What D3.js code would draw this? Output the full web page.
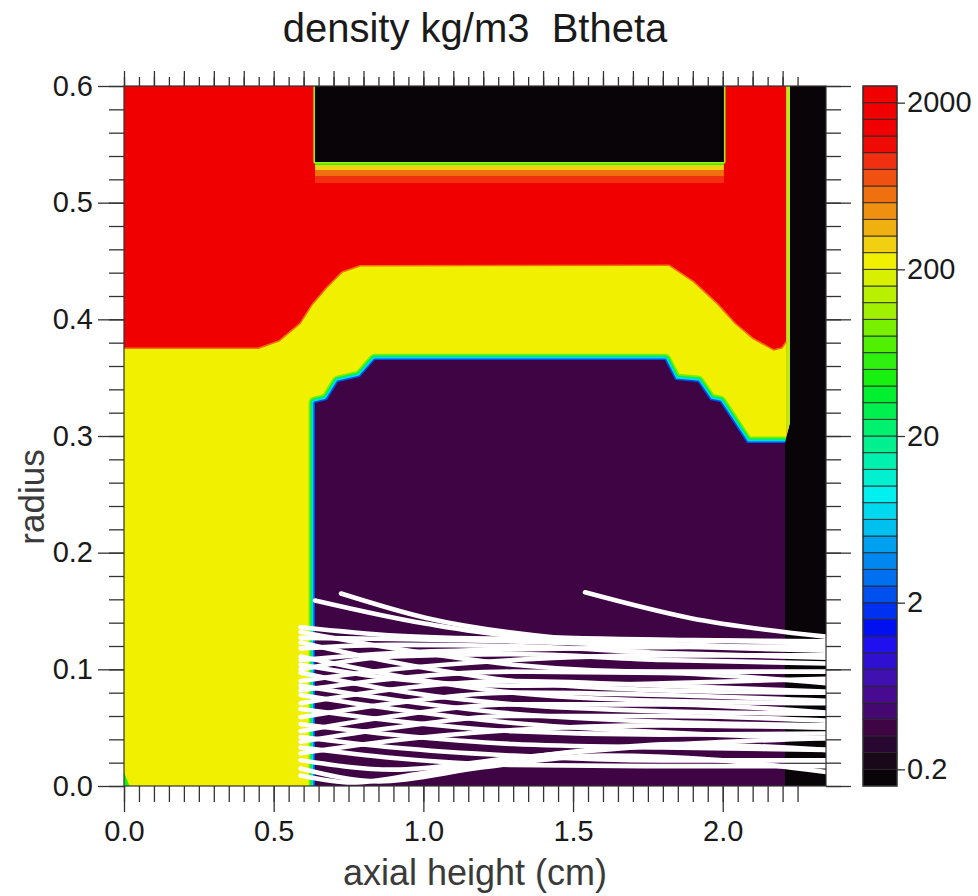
<!DOCTYPE html>
<html>
<head>
<meta charset="utf-8">
<script src="https://cdn.jsdelivr.net/npm/d3@7"></script>
<style>
  html, body { margin: 0; padding: 0; background: #ffffff; }
  svg { display: block; font-family: "Liberation Sans", Arial, Helvetica, sans-serif; }
</style>
</head>
<body>
<svg id="chart" width="978" height="896"></svg>
<script>
// ---------------------------------------------------------------
// Density map (kg/m3) with Btheta trajectories
// ---------------------------------------------------------------

// Contour-level colours, lowest level first (10 levels per decade)
const levelColors = [
  "#080408", "#180818", "#280830", "#3e0444", "#440870", "#480a90", "#4010b0", "#3010d0",
  "#2010f0", "#0010f0", "#0030f0", "#0050f0", "#0070f0", "#0088f0", "#00a0f0", "#00c0f0",
  "#00d8f0", "#00f0f0", "#00f0d0", "#00f0b0", "#00f090", "#00f070", "#00f050", "#00f030",
  "#18f010", "#30f010", "#50f000", "#78f000", "#a0f000", "#b8f000", "#d8f000", "#f0f000",
  "#f0d010", "#f0b010", "#f09010", "#f07010", "#f05010", "#f03010", "#f00a04", "#f00000",
  "#f00000", "#f00000"
];

// Colour-bar labels
const cbarTickValues = [0.2, 2, 20, 200, 2000];
const cbarTickLabels = ["0.2", "2", "20", "200", "2000"];

// Axis ticks
const xMajorTicks = [0.0, 0.5, 1.0, 1.5, 2.0];
const xTickLabels = ["0.0", "0.5", "1.0", "1.5", "2.0"];
const yMajorTicks = [0.0, 0.1, 0.2, 0.3, 0.4, 0.5, 0.6];
const yTickLabels = ["0.0", "0.1", "0.2", "0.3", "0.4", "0.5", "0.6"];

// Density regions [axial height, radius], painted in order.
// `edges` lists the density of the thin transition layers around a region, outermost first.
const regionWall = { value: 2500, edges: [], pts: [[0, 0], [2.213, 0], [2.213, 0.6], [0, 0.6]] };
const regionFoam = { value: 220, edges: [600], pts: [
  [0, 0], [2.213, 0], [2.213, 0.38], [2.20, 0.375], [2.17, 0.373], [2.10, 0.383], [2.04, 0.396],
  [1.98, 0.413], [1.90, 0.432], [1.82, 0.4457], [0.79, 0.4453], [0.73, 0.440], [0.68, 0.427],
  [0.63, 0.412], [0.59, 0.396], [0.52, 0.381], [0.45, 0.3745], [0, 0.3745]
] };
const regionGap = { value: 0.35, edges: [100, 30, 7, 2.5], pts: [
  [0.638, 0], [0.638, 0.3283], [0.678, 0.3309], [0.715, 0.3463], [0.788, 0.3506], [0.838, 0.3651],
  [1.807, 0.3651], [1.841, 0.348], [1.917, 0.3463], [1.958, 0.3309], [1.991, 0.3291],
  [2.024, 0.3163], [2.081, 0.294], [2.208, 0.294], [2.208, 0]
] };
const regionLayer1 = { value: 900, edges: [], pts: [[0.638, 0.5169], [2.004, 0.5169], [2.004, 0.5229], [0.638, 0.5229]] };
const regionLayer2 = { value: 550, edges: [], pts: [[0.638, 0.5229], [2.004, 0.5229], [2.004, 0.528], [0.638, 0.528]] };
const regionLayer3 = { value: 300, edges: [], pts: [[0.638, 0.528], [2.004, 0.528], [2.004, 0.5323], [0.638, 0.5323]] };
const regionLayer4 = { value: 60, edges: [], pts: [[0.638, 0.5323], [2.004, 0.5323], [2.004, 0.5349], [0.638, 0.5349]] };
const regionVoidTop = { value: 0.13, edges: [120], pts: [[0.638, 0.5349], [2.004, 0.5349], [2.004, 0.6], [0.638, 0.6]] };
const regionVoidEnd = { value: 0.13, edges: [], pts: [
  [2.208, 0], [2.345, 0], [2.345, 0.6], [2.224, 0.6], [2.224, 0.311], [2.208, 0.294]
] };
const regionWallSkin = { value: 150, edges: [], pts: [[2.213, 0.30], [2.224, 0.311], [2.224, 0.6], [2.213, 0.6]] };
const regionCorner = { value: 50, edges: [], pts: [[0, 0], [0.018, 0], [0, 0.012]] };

const regions = [
  regionWall, regionFoam, regionGap, regionLayer1, regionLayer2, regionLayer3, regionLayer4,
  regionVoidTop, regionVoidEnd, regionWallSkin, regionCorner
];

// Trajectories: [axial height, radius]
const trajectories = [
  [[0.59, 0.136], [0.90, 0.129], [1.30, 0.126], [1.80, 0.125], [2.345, 0.123]],
  [[0.59, 0.132], [0.90, 0.118], [1.30, 0.104], [1.80, 0.098], [2.345, 0.098]],
  [[0.59, 0.127], [0.90, 0.126], [1.30, 0.124], [1.80, 0.120], [2.345, 0.116]],
  [[0.59, 0.123], [0.90, 0.106], [1.30, 0.090], [1.80, 0.082], [2.345, 0.080]],
  [[0.59, 0.118], [0.90, 0.121], [1.30, 0.120], [1.80, 0.114], [2.345, 0.110]],
  [[0.59, 0.111], [0.90, 0.095], [1.30, 0.080], [1.80, 0.073], [2.345, 0.071]],
  [[0.59, 0.108], [0.90, 0.114], [1.30, 0.117], [1.80, 0.119], [2.345, 0.120]],
  [[0.59, 0.104], [0.90, 0.092], [1.30, 0.086], [1.80, 0.088], [2.345, 0.092]],
  [[0.59, 0.100], [0.90, 0.111], [1.30, 0.113], [1.80, 0.108], [2.345, 0.105]],
  [[0.59, 0.097], [0.90, 0.082], [1.30, 0.070], [1.80, 0.064], [2.345, 0.062]],
  [[0.59, 0.090], [0.90, 0.100], [1.30, 0.108], [1.80, 0.112], [2.345, 0.112]],
  [[0.59, 0.086], [0.90, 0.074], [1.30, 0.062], [1.80, 0.055], [2.345, 0.052]],
  [[0.59, 0.082], [0.90, 0.092], [1.30, 0.098], [1.80, 0.097], [2.345, 0.088]],
  [[0.59, 0.078], [0.90, 0.066], [1.30, 0.054], [1.80, 0.046], [2.345, 0.041]],
  [[0.59, 0.071], [0.90, 0.083], [1.30, 0.090], [1.80, 0.086], [2.345, 0.081]],
  [[0.59, 0.066], [0.90, 0.056], [1.30, 0.047], [1.80, 0.044], [2.345, 0.045]],
  [[0.59, 0.059], [0.90, 0.071], [1.30, 0.080], [1.80, 0.078], [2.345, 0.073]],
  [[0.59, 0.053], [0.90, 0.044], [1.30, 0.036], [1.80, 0.033], [2.345, 0.031]],
  [[0.59, 0.047], [0.90, 0.060], [1.30, 0.070], [1.80, 0.070], [2.345, 0.063]],
  [[0.59, 0.042], [0.90, 0.033], [1.30, 0.026], [1.80, 0.022], [2.345, 0.022]],
  [[0.59, 0.038], [0.90, 0.050], [1.30, 0.060], [1.80, 0.060], [2.345, 0.056]],
  [[0.59, 0.033], [0.90, 0.024], [1.30, 0.018], [1.80, 0.017], [2.345, 0.017]],
  [[0.59, 0.028], [0.90, 0.039], [1.30, 0.048], [1.80, 0.052], [2.345, 0.050]],
  [[0.59, 0.022], [0.90, 0.014], [1.30, 0.024], [1.80, 0.035], [2.345, 0.041]],
  [[0.59, 0.015], [0.85, 0.004], [1.20, 0.016], [1.60, 0.026], [2.00, 0.022], [2.345, 0.012]],
  [[0.59, 0.009], [0.76, 0.003], [1.02, 0.012], [1.52, 0.030], [1.85, 0.036], [2.345, 0.031]],
  [[0.638, 0.159], [1.01, 0.139], [1.34, 0.128], [1.90, 0.125], [2.345, 0.124]],
  [[0.725, 0.165], [1.01, 0.144], [1.45, 0.127], [2.00, 0.120], [2.345, 0.118]],
  [[1.54, 0.166], [1.89, 0.144], [2.345, 0.128]]
];

// ---------------------------------------------------------------
const svg = d3.select("#chart");
const plot = { left: 124, right: 826, top: 86, bottom: 786 };
const cbar = { left: 863, right: 897, top: 86, bottom: 786 };
const axisColor = "#333333";

const x = d3.scaleLinear().domain([0, 2.345]).range([plot.left, plot.right]);
const y = d3.scaleLinear().domain([0, 0.6]).range([plot.bottom, plot.top]);

// Level boundaries: 0.2 * 10^(k/10), one level below 0.2 up to one above 2000
const levels = d3.range(43).map(k => 0.2 * Math.pow(10, (k - 1) / 10));
const color = d3.scaleThreshold().domain(levels.slice(1, 42)).range(levelColors);

// Clip to plot area
svg.append("defs").append("clipPath").attr("id", "plotClip")
  .append("rect")
  .attr("x", plot.left).attr("y", plot.top)
  .attr("width", plot.right - plot.left).attr("height", plot.bottom - plot.top);

const field = svg.append("g").attr("clip-path", "url(#plotClip)");
const area = d3.line().x(d => x(d[0])).y(d => y(d[1]));

const edgeWidth = 1.6;
regions.forEach(reg => {
  const dPath = area(reg.pts) + "Z";
  const n = reg.edges.length;
  reg.edges.forEach((v, i) => {
    field.append("path")
      .attr("d", dPath)
      .attr("fill", "none")
      .attr("stroke", color(v))
      .attr("stroke-width", (n - i) * edgeWidth * 2)
      .attr("stroke-linejoin", "round");
  });
  field.append("path")
    .attr("d", dPath)
    .attr("fill", color(reg.value))
    .attr("stroke", "none");
});

// Trajectories
const traj = d3.line().x(d => x(d[0])).y(d => y(d[1])).curve(d3.curveMonotoneX);
field.append("g")
  .selectAll("path")
  .data(trajectories)
  .join("path")
  .attr("d", traj)
  .attr("fill", "none")
  .attr("stroke", "#ffffff")
  .attr("stroke-width", 4.6)
  .attr("stroke-linecap", "round");

// ---------------------------------------------------------------
// Axes
function styleAxis(g) {
  g.select(".domain").remove();
  g.selectAll(".tick line").attr("stroke", axisColor).attr("stroke-width", 1.3);
  g.selectAll(".tick text").attr("fill", "#1a1a1a").style("font-size", "29px");
}

const xMinor = d3.range(0, 46).map(i => +(i * 0.05).toFixed(2)).filter(v => v <= 2.34);
const yMinor = d3.range(0, 31).map(i => +(i * 0.02).toFixed(2));

// bottom
svg.append("g").attr("transform", `translate(0,${plot.bottom})`)
  .call(d3.axisBottom(x).tickValues(xMinor).tickSize(16).tickFormat(""))
  .call(styleAxis);
svg.append("g").attr("transform", `translate(0,${plot.bottom})`)
  .call(d3.axisBottom(x).tickValues(xMajorTicks).tickSize(26).tickPadding(8)
    .tickFormat((d, i) => xTickLabels[i]))
  .call(styleAxis);

// top
svg.append("g").attr("transform", `translate(0,${plot.top})`)
  .call(d3.axisTop(x).tickValues(xMinor).tickSize(9).tickFormat(""))
  .call(styleAxis);
svg.append("g").attr("transform", `translate(0,${plot.top})`)
  .call(d3.axisTop(x).tickValues(xMinor.filter((v, i) => i % 2 === 0)).tickSize(15).tickFormat(""))
  .call(styleAxis);

// left
svg.append("g").attr("transform", `translate(${plot.left},0)`)
  .call(d3.axisLeft(y).tickValues(yMinor).tickSize(15).tickFormat(""))
  .call(styleAxis);
svg.append("g").attr("transform", `translate(${plot.left},0)`)
  .call(d3.axisLeft(y).tickValues(yMajorTicks).tickSize(26).tickPadding(5)
    .tickFormat((d, i) => yTickLabels[i]))
  .call(styleAxis);

// right
svg.append("g").attr("transform", `translate(${plot.right},0)`)
  .call(d3.axisRight(y).tickValues(yMinor).tickSize(15).tickFormat(""))
  .call(styleAxis);
svg.append("g").attr("transform", `translate(${plot.right},0)`)
  .call(d3.axisRight(y).tickValues(yMajorTicks).tickSize(25).tickFormat(""))
  .call(styleAxis);

// frame
svg.append("rect")
  .attr("x", plot.left).attr("y", plot.top)
  .attr("width", plot.right - plot.left).attr("height", plot.bottom - plot.top)
  .attr("fill", "none").attr("stroke", axisColor).attr("stroke-width", 1.2);

// ---------------------------------------------------------------
// Colour bar
const cy = d3.scaleLog().domain([levels[0], levels[42]]).range([cbar.bottom, cbar.top]);
const bands = d3.range(42).map(k => ({ lo: levels[k], hi: levels[k + 1], c: levelColors[k] }));
svg.append("g")
  .selectAll("rect")
  .data(bands)
  .join("rect")
  .attr("x", cbar.left)
  .attr("y", d => cy(d.hi))
  .attr("width", cbar.right - cbar.left)
  .attr("height", d => cy(d.lo) - cy(d.hi))
  .attr("fill", d => d.c)
  .attr("stroke", "#2a2a2a")
  .attr("stroke-width", 0.9);
svg.append("rect")
  .attr("x", cbar.left).attr("y", cbar.top)
  .attr("width", cbar.right - cbar.left).attr("height", cbar.bottom - cbar.top)
  .attr("fill", "none").attr("stroke", axisColor).attr("stroke-width", 1.2);
svg.append("g").attr("transform", `translate(${cbar.right},0)`)
  .call(d3.axisRight(cy).tickValues(cbarTickValues).tickSize(8).tickPadding(2)
    .tickFormat((d, i) => cbarTickLabels[i]))
  .call(styleAxis);

// ---------------------------------------------------------------
// Titles
svg.append("text")
  .attr("x", 475).attr("y", 42)
  .attr("text-anchor", "middle")
  .attr("fill", "#1a1a1a")
  .style("font-size", "40px")
  .style("white-space", "pre")
  .text("density kg/m3  Btheta");

svg.append("text")
  .attr("x", 475).attr("y", 885)
  .attr("text-anchor", "middle")
  .attr("fill", "#3a3a3a")
  .style("font-size", "36px")
  .text("axial height (cm)");

svg.append("text")
  .attr("transform", "translate(44,497) rotate(-90)")
  .attr("text-anchor", "middle")
  .attr("fill", "#3a3a3a")
  .style("font-size", "35px")
  .text("radius");
</script>
</body>
</html>
